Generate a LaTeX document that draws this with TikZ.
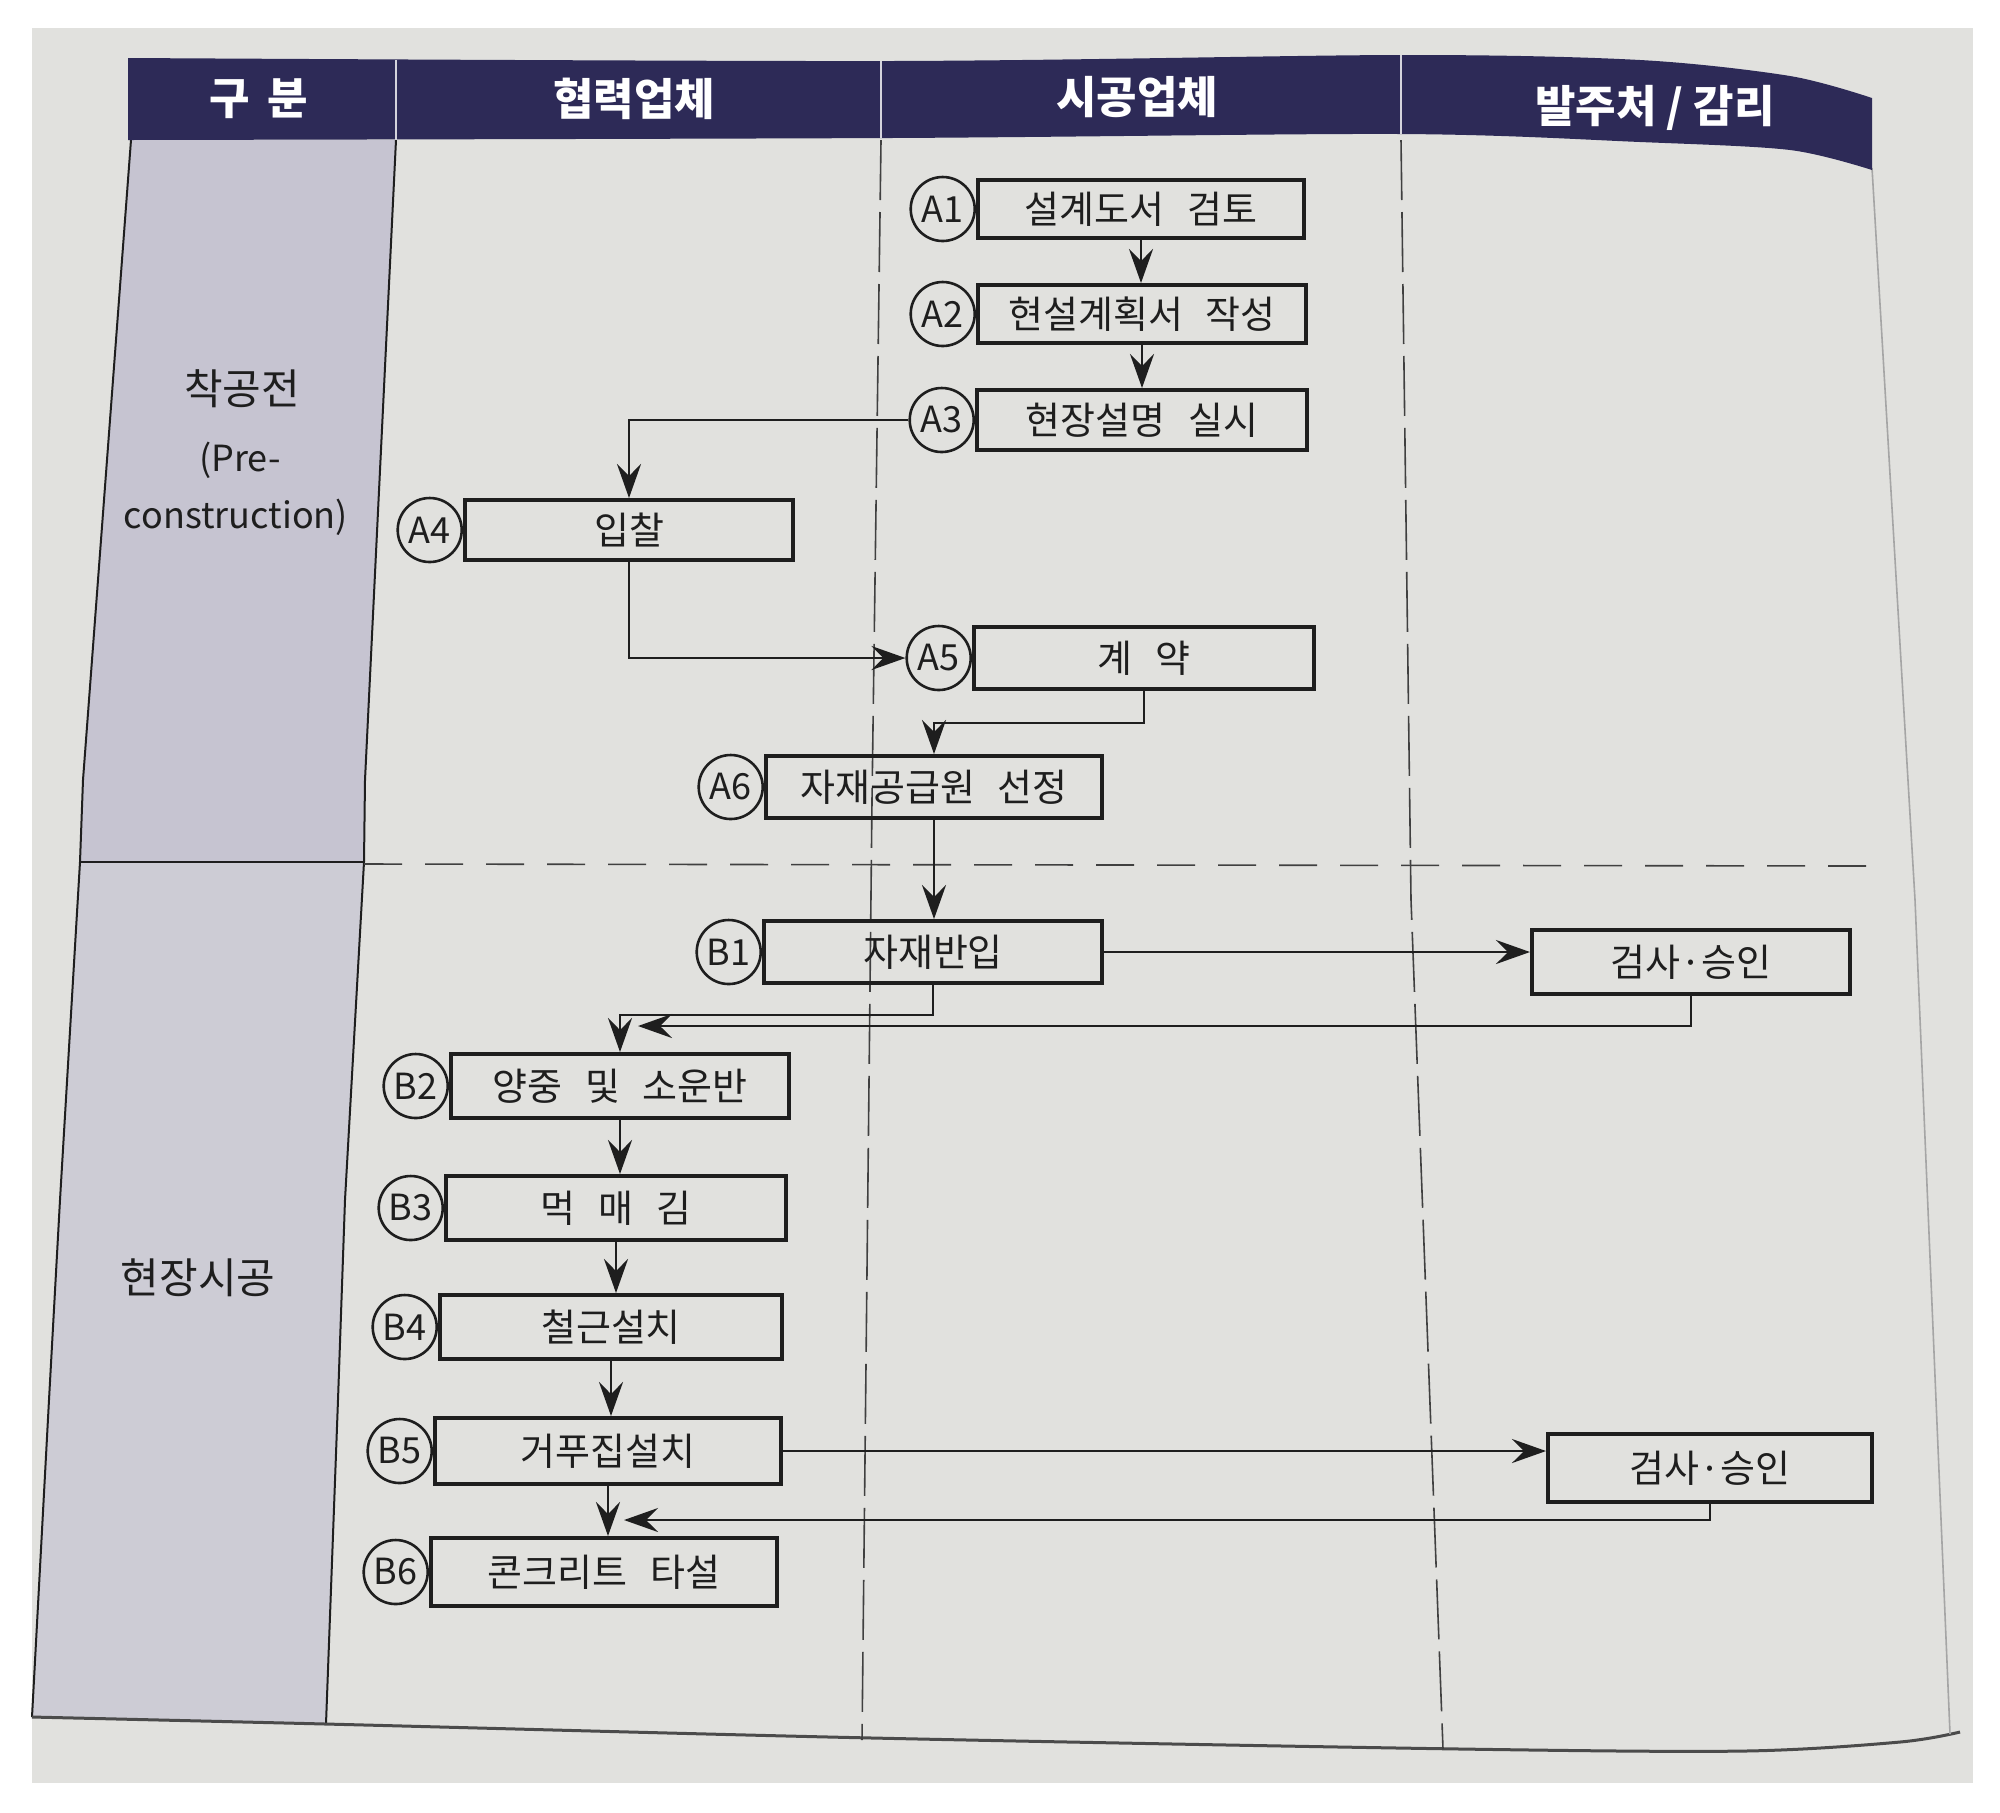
\documentclass[tikz,border=0pt]{standalone}
\usepackage{fontspec}
\setmainfont{Noto Sans CJK KR}
\usetikzlibrary{arrows.meta,calc}
\definecolor{navy}{HTML}{2D2A57}
\definecolor{pagegrey}{HTML}{E1E1DE}
\definecolor{lavA}{HTML}{C6C4D1}
\definecolor{lavB}{HTML}{CDCCD5}
\definecolor{ink}{HTML}{1E1E1E}
\newcommand\wsp{\hspace{0.6em}}
\begin{document}
\begin{tikzpicture}[x=0.5pt,y=-0.5pt,
  box/.style={draw=ink,line width=2pt,inner sep=0pt,text=ink,font=\fontsize{19}{22}\selectfont},
  num/.style={draw=ink,circle,line width=1.3pt,minimum size=32pt,inner sep=0pt,anchor=east,text=ink,font=\fontsize{18}{20}\selectfont},
  arr/.style={draw=ink,line width=1.4pt,-{Stealth[length=17pt,width=12pt,inset=6pt]}},
  hdr/.style={text=white,font=\fontsize{22}{24}\selectfont\bfseries},
  lbl/.style={text=ink,align=center},
  vdash/.style={draw=ink!85,line width=0.8pt,dash pattern=on 30pt off 6pt},
  hdash/.style={draw=ink!85,line width=0.8pt,dash pattern=on 19pt off 11.5pt},
  edge/.style={draw=ink,line width=1pt}
]
% canvas
\fill[white] (0,0) rectangle (2000,1812);
\useasboundingbox (0,0) rectangle (2000,1812);
\fill[pagegrey] (32,28) rectangle (1973,1783);
% left column
\fill[lavA] (131,140) -- (396,140) -- (365,780) -- (364,862) -- (80,862) -- (83,780) -- cycle;
\fill[lavB] (80,862) -- (364,862) -- (345,1200) -- (338,1400) -- (326,1724) -- (32,1717) -- (49,1400) -- (60,1200) -- cycle;
\draw[edge] (131,140) -- (83,780) -- (80,862) -- (60,1200) -- (49,1400) -- (32,1717);
\draw[edge] (396,140) -- (365,780) -- (364,862) -- (345,1200) -- (338,1400) -- (326,1724);
\draw[edge] (80,862) -- (364,862);
% table bottom and right edge
\draw[draw=ink!80,line width=1.5pt] plot[smooth] coordinates {(32,1717) (326,1724) (873,1738) (1461,1749) (1745,1751) (1900,1742) (1960,1732)};
\draw[draw=ink!40,line width=0.8pt] (1872,168) -- (1915,900) -- (1950,1734);
% column dividers
\draw[vdash] (881,140) -- (872,800) -- (862,1740);
\draw[vdash] (1401,140) -- (1411,900) -- (1443,1749);
\draw[hdash] (364,864) -- (1885,866);
% header band
\fill[navy] plot[smooth] coordinates {(128,58) (890,61) (1400,55) (1640,60) (1790,76) (1872,98)}
  -- (1872,170) -- plot[smooth] coordinates {(1872,170) (1790,150) (1640,142) (1400,134) (890,138) (128,140)} -- cycle;
\draw[white!80!navy,line width=0.8pt] (396,60) -- (396,140) (881,61) -- (881,138) (1401,55) -- (1401,134);
\node[hdr] (h0) at (259,99) {구\hspace{0.4em}분};
\node[hdr] (h1) at (634,99) {협력업체};
\node[hdr] (h2) at (1137,97) {시공업체};
\node[hdr] (h3) at (1655,108) {발주처 / 감리};
% row labels
\node[lbl,font=\fontsize{21}{24}\selectfont] (pre1) at (242,389) {착공전};
\node[lbl,font=\fontsize{18}{20}\selectfont] (pre2) at (240,460) {(Pre-};
\node[lbl,font=\fontsize{18}{20}\selectfont] (pre3) at (236,517) {construction)};
\node[lbl,font=\fontsize{21}{24}\selectfont] (site) at (198,1278) {현장시공};
% boxes
\node[box,minimum width=163pt,minimum height=29pt] (A1) at (1141,209) {설계도서\wsp 검토};
\node[box,minimum width=164pt,minimum height=29pt] (A2) at (1142,314) {현설계획서\wsp 작성};
\node[box,minimum width=165pt,minimum height=30pt] (A3) at (1142,420) {현장설명\wsp 실시};
\node[box,minimum width=164pt,minimum height=30pt] (A4) at (629,530) {입찰};
\node[box,minimum width=170pt,minimum height=31pt] (A5) at (1144,658) {계\wsp 약};
\node[box,minimum width=168pt,minimum height=31pt] (A6) at (934,787) {자재공급원\wsp 선정};
\node[box,minimum width=169pt,minimum height=31pt] (B1) at (933,952) {자재반입};
\node[box,minimum width=159pt,minimum height=32pt] (S1) at (1691,962) {검사·승인};
\node[box,minimum width=169pt,minimum height=32pt] (B2) at (620,1086) {양중\wsp 및\wsp 소운반};
\node[box,minimum width=170pt,minimum height=32pt] (B3) at (616,1208) {먹\wsp 매\wsp 김};
\node[box,minimum width=171pt,minimum height=32pt] (B4) at (611,1327) {철근설치};
\node[box,minimum width=173pt,minimum height=33pt] (B5) at (608,1451) {거푸집설치};
\node[box,minimum width=162pt,minimum height=34pt] (S2) at (1710,1468) {검사·승인};
\node[box,minimum width=173pt,minimum height=34pt] (B6) at (604,1572) {콘크리트\wsp 타설};
% numbered circles
\node[num] (cA1) at (A1.west) {A1};
\node[num] (cA2) at (A2.west) {A2};
\node[num] (cA3) at (A3.west) {A3};
\node[num] (cA4) at (A4.west) {A4};
\node[num] (cA5) at (A5.west) {A5};
\node[num] (cA6) at (A6.west) {A6};
\node[num] (cB1) at (B1.west) {B1};
\node[num] (cB2) at (B2.west) {B2};
\node[num] (cB3) at (B3.west) {B3};
\node[num] (cB4) at (B4.west) {B4};
\node[num] (cB5) at (B5.west) {B5};
\node[num] (cB6) at (B6.west) {B6};
% join points
\coordinate (j1) at ($(B2.north)+(18,-26)$);
\coordinate (j2) at ($(B6.north)+(20,-16)$);
% connectors
\draw[arr] (A1.south) -- (A1.south |- A2.north);
\draw[arr] (A2.south) -- (A2.south |- A3.north);
\draw[arr] (cA3.west) -| (A4.north);
\draw[arr] (A4.south) |- (cA5.west);
\draw[arr] (A5.south) -- ++(0,32) -| (A6.north);
\draw[arr] (A6.south) -- (A6.south |- B1.north);
\draw[arr] (B1.east) -- (B1.east -| S1.west);
\draw[arr] (B1.south) -- ++(0,30) -| (B2.north);
\draw[arr] (S1.south) |- (j1);
\draw[arr] (B2.south) -- (B2.south |- B3.north);
\draw[arr] (B3.south) -- (B3.south |- B4.north);
\draw[arr] (B4.south) -- (B4.south |- B5.north);
\draw[arr] (B5.south) -- (B5.south |- B6.north);
\draw[arr] (B5.east) -- (B5.east -| S2.west);
\draw[arr] (S2.south) |- (j2);
\end{tikzpicture}
\end{document}
